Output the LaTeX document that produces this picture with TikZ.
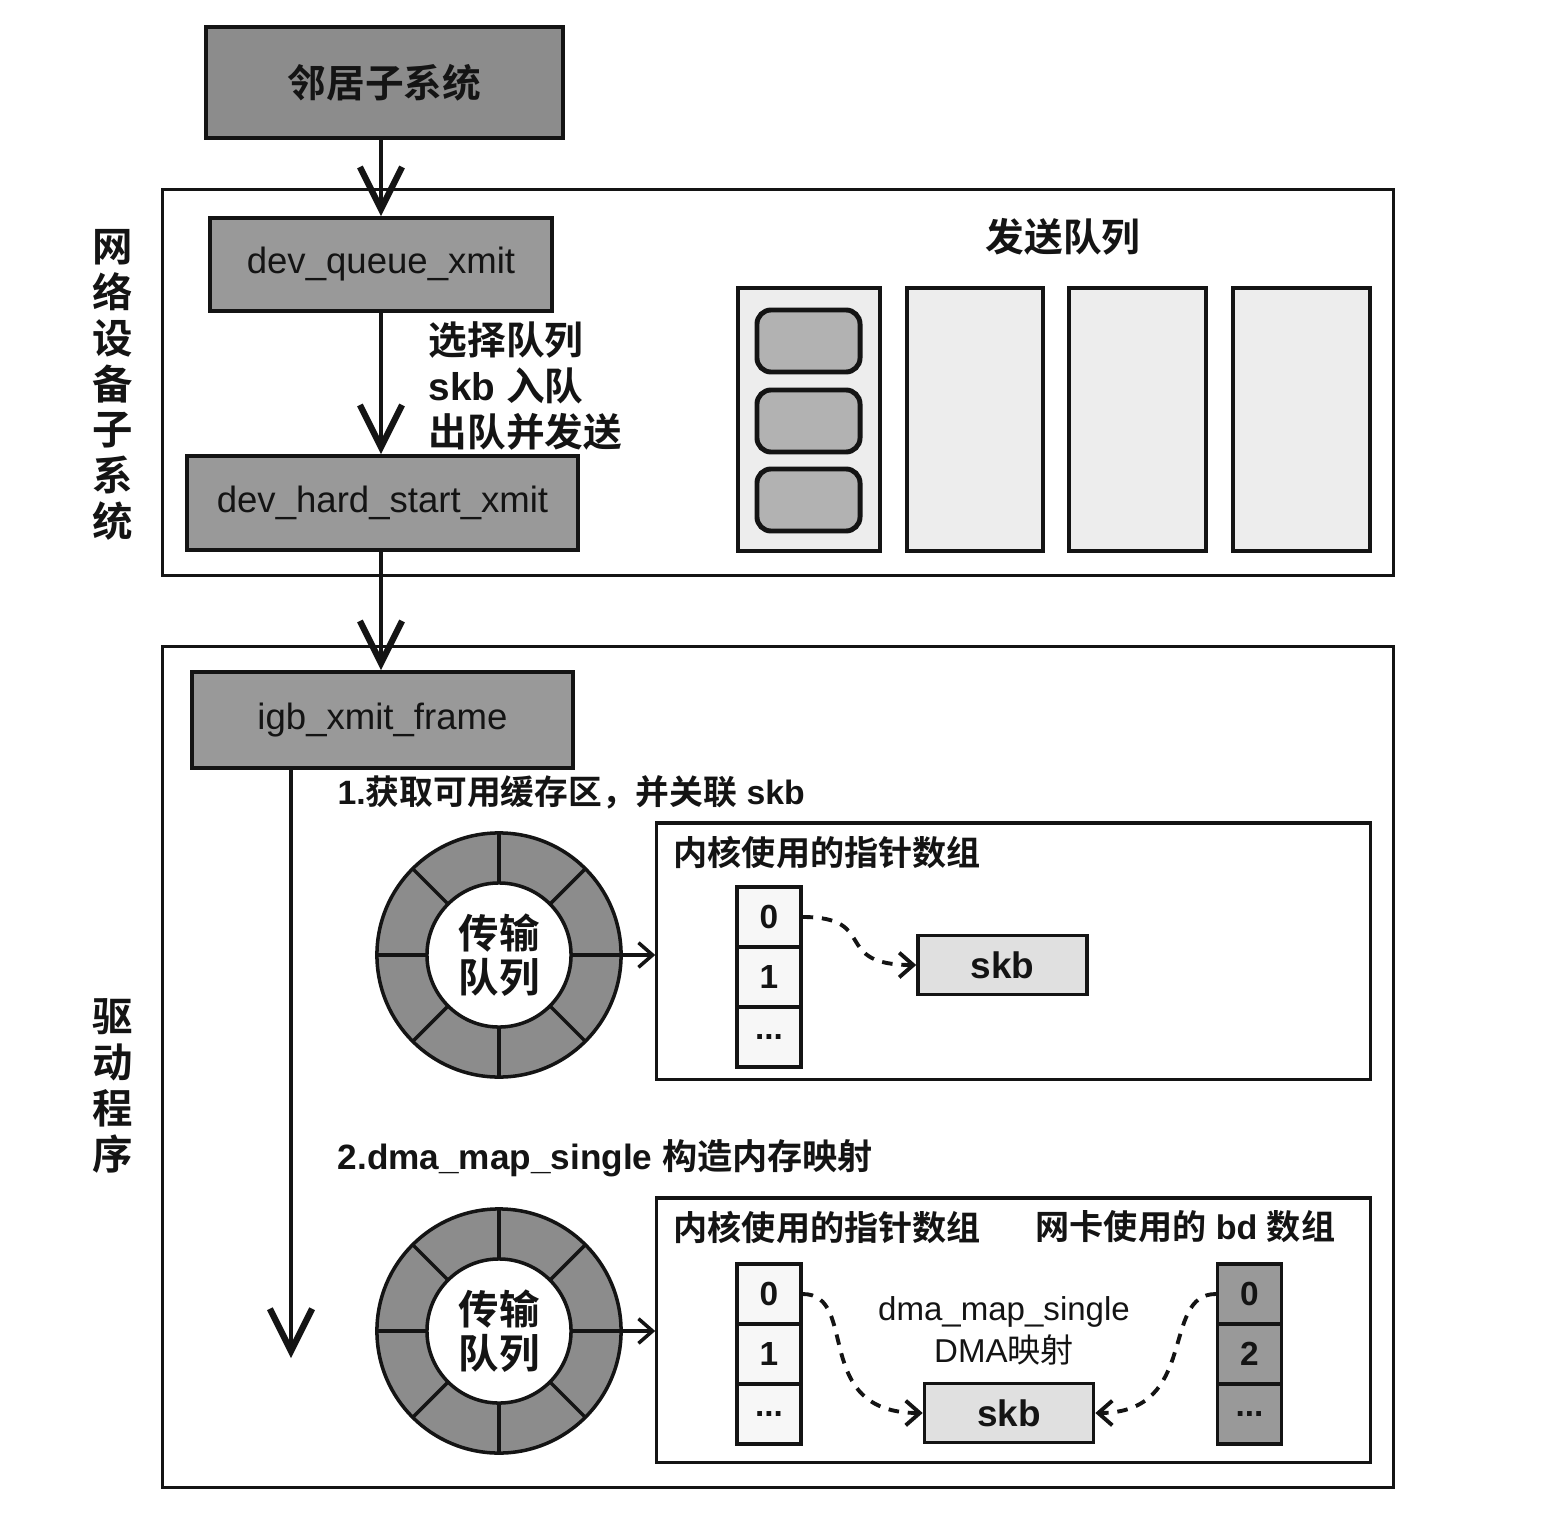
\documentclass[tikz,border=0pt]{standalone}
\usepackage{fontspec}
\setmainfont{Liberation Sans}
\newfontfamily\cjk{Noto Sans CJK SC}[BoldFont={Noto Sans CJK SC Bold}]
\usetikzlibrary{arrows.meta}

% bold / regular Chinese runs
\newcommand\hz[1]{{\cjk\bfseries #1}}
\newcommand\hzr[1]{{\cjk #1}}
\newcommand\fsz[2]{\fontsize{#1}{#2}\selectfont}

\definecolor{ink}{gray}{0.08}
\definecolor{darkfill}{gray}{0.55}
\definecolor{funcfill}{gray}{0.60}
\definecolor{colfill}{gray}{0.93}
\definecolor{slotfill}{gray}{0.70}
\definecolor{ringfill}{gray}{0.55}
\definecolor{skbfill}{gray}{0.88}
\definecolor{bdfill}{gray}{0.60}
\definecolor{cellfill}{gray}{0.97}

\tikzset{
  every node/.style={inner sep=0pt, text=ink},
  panel/.style={draw=ink, line width=0.8pt},
  funcbox/.style={draw=ink, line width=1pt, fill=funcfill, font=\fsz{10.4pt}{12pt}},
  qcol/.style={draw=ink, line width=1pt, fill=colfill, minimum height=2.63cm},
  qslot/.style={draw=ink, line width=1.4pt, fill=slotfill, rounded corners=4pt,
    minimum width=1.03cm, minimum height=0.62cm},
  cell/.style={draw=ink, line width=0.9pt, fill=cellfill, minimum width=0.64cm,
    minimum height=0.60cm, font=\fsz{9.5pt}{11pt}\bfseries},
  bdcell/.style={cell, fill=bdfill},
  skbbox/.style={draw=ink, line width=1pt, fill=skbfill, minimum width=1.69cm,
    minimum height=0.59cm, font=\fsz{10.5pt}{12pt}\bfseries},
  ringouter/.style={circle, draw=ink, line width=1pt, fill=ringfill, minimum size=2.44cm},
  ringinner/.style={circle, draw=ink, line width=1pt, fill=white, minimum size=1.44cm,
    align=center, font=\fsz{11.5pt}{12.5pt}},
  steplabel/.style={anchor=west, font=\fsz{9.6pt}{12pt}\bfseries},
  title/.style={anchor=west, font=\fsz{9.7pt}{12pt}},
  sidelabel/.style={align=center, font=\fsz{11.5pt}{13pt}},
  flow/.style={draw=ink, line width=1.2pt,
    -{Straight Barb[length=12pt, width=12pt, line width=1.8pt]}},
  feed/.style={draw=ink, line width=0.9pt,
    -{Straight Barb[length=4pt, width=7pt, line width=1pt]}},
  ptr/.style={draw=ink, line width=1.1pt, dash pattern=on 3pt off 2.5pt,
    -{Straight Barb[length=4pt, width=7pt, line width=1.1pt]}},
}

% transmit ring: name, centre y
\newcommand\txring[2]{%
  \node[ringouter] (#1) at (499,#2) {};
  \foreach \a in {0,45,...,315}
    \draw[ink, line width=1pt] ([shift={(\a:0.72cm)}]#1.center) -- ([shift={(\a:1.22cm)}]#1.center);
  \node[ringinner] (#1-in) at (#1.center) {\hz{传输}\\\hz{队列}};
}

\begin{document}
\begin{tikzpicture}[x=0.01cm, y=-0.01cm]
\useasboundingbox[fill=white] (0,0) rectangle (1552,1528);

% subsystem panels
\node[panel, minimum width=12.30cm, minimum height=3.85cm] (netdev) at (778,382.5) {};
\node[panel, minimum width=12.30cm, minimum height=8.40cm] (driver) at (778,1067) {};

\node[sidelabel] (netdevlbl) at (113,385) {\hz{网}\\\hz{络}\\\hz{设}\\\hz{备}\\\hz{子}\\\hz{系}\\\hz{统}};
\node[sidelabel] (driverlbl) at (113,1086) {\hz{驱}\\\hz{动}\\\hz{程}\\\hz{序}};

% call chain
\node[funcbox, fill=darkfill, minimum width=3.57cm, minimum height=1.11cm,
      font=\fsz{11pt}{13pt}] (neigh) at (384.5,82.5) {\hz{邻居子系统}};
\node[funcbox, minimum width=3.42cm, minimum height=0.93cm] (dq) at (381,264.5) {dev\_queue\_xmit};
\node[funcbox, minimum width=3.91cm, minimum height=0.94cm] (dh) at (382.5,503) {dev\_hard\_start\_xmit};
\node[funcbox, minimum width=3.81cm, minimum height=0.96cm] (igb) at (382.5,720) {igb\_xmit\_frame};

\draw[flow] (neigh.south -| dq.north) -- (dq.north);
\draw[flow] (dq.south) -- (dq.south |- dh.north);
\draw[flow] (dq.south |- dh.south) -- (dq.south |- igb.north);

\node[anchor=west, align=left, font=\fsz{11pt}{13pt}\bfseries] (qsteps) at (428,386)
  {\hz{选择队列}\\skb \hz{入队}\\\hz{出队并发送}};

% transmit queues
\node[font=\fsz{11pt}{13pt}] (txqlbl) at (1063,237) {\hz{发送队列}};
\node[qcol, minimum width=1.42cm] (q1) at (809,419.5) {};
\node[qcol, minimum width=1.36cm] (q2) at (975,419.5) {};
\node[qcol, minimum width=1.37cm] (q3) at (1137.5,419.5) {};
\node[qcol, minimum width=1.37cm] (q4) at (1301.5,419.5) {};
\node[qslot] (s1) at (808.5,341) {};
\node[qslot] (s2) at (808.5,421) {};
\node[qslot] (s3) at (808.5,500) {};

% driver: long flow arrow
\coordinate (drvend) at (291,1358);
\draw[flow] (igb.south -| drvend) -- (drvend);

% step 1
\node[steplabel] (step1) at (337,792) {1.\hz{获取可用缓存区，并关联} skb};
\node[panel, line width=0.9pt, minimum width=7.13cm, minimum height=2.56cm] (boxa) at (1013.5,951) {};
\node[title] (boxatitle) at (673,852) {\hz{内核使用的指针数组}};
\txring{ringa}{955}
\draw[feed] (ringa.east) -- (ringa.east -| boxa.west);
\node[cell] (a0) at (769,917) {0};
\node[cell] (a1) at (769,977) {1};
\node[cell] (a2) at (769,1037) {...};
\node[skbbox] (skba) at (1002.5,965) {skb};
\draw[ptr] (a0.east) .. controls (880,917) and (830,965) .. (skba.west);

% step 2
\node[steplabel, font=\fsz{10pt}{12pt}\bfseries] (step2) at (337,1158) {2.dma\_map\_single \hz{构造内存映射}};
\node[panel, line width=0.9pt, minimum width=7.13cm, minimum height=2.64cm] (boxb) at (1013.5,1330) {};
\node[title] (boxbtitle) at (673,1227) {\hz{内核使用的指针数组}};
\node[title] (bdtitle) at (1035,1227) {\hz{网卡使用的} {\bfseries bd} \hz{数组}};
\txring{ringb}{1331}
\draw[feed] (ringb.east) -- (ringb.east -| boxb.west);
\node[cell] (b0) at (769,1294) {0};
\node[cell] (b1) at (769,1354) {1};
\node[cell] (b2) at (769,1414) {...};
\node[bdcell] (d0) at (1249.5,1294) {0};
\node[bdcell] (d1) at (1249.5,1354) {2};
\node[bdcell] (d2) at (1249.5,1414) {...};
\node[skbbox] (skbb) at (1009,1413) {skb};
\node[align=center, font=\fsz{9.4pt}{11pt}] (dmalbl) at (1004,1331)
  {dma\_map\_single\\[1pt]DMA\hzr{映射}};
\draw[ptr] (b0.east) .. controls (860,1294) and (810,1413) .. (skbb.west);
\draw[ptr] (d0.west) .. controls (1160,1294) and (1200,1413) .. (skbb.east);

\end{tikzpicture}
\end{document}
